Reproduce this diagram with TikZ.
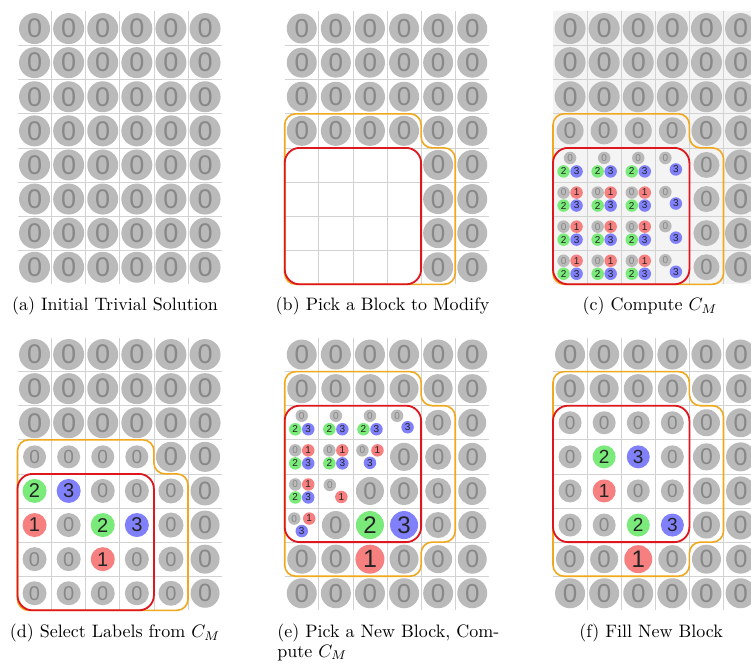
\documentclass[tikz,border=0pt]{standalone}
\usepackage{fontspec}
\newfontfamily\digitfont{Liberation Sans}
\definecolor{cgray}{RGB}{186,186,186}
\definecolor{cgtext}{RGB}{136,136,136}
\definecolor{cred}{RGB}{246,128,128}
\definecolor{cgreen}{RGB}{122,234,122}
\definecolor{cblue}{RGB}{128,128,250}
\definecolor{cdark}{RGB}{35,35,35}
\definecolor{cgrid}{RGB}{210,210,210}
\definecolor{corange}{RGB}{240,168,30}
\definecolor{cborder}{RGB}{222,22,30}
\definecolor{cbg}{RGB}{244,244,244}
\tikzset{
 dot/.style 2 args={circle, inner sep=0pt, minimum size=#1pt, font=\digitfont\fontsize{#2}{#2}\selectfont},
 g0/.style={fill=cgray, text=cgtext},
 g1/.style={fill=cred, text=cdark},
 g2/.style={fill=cgreen, text=cdark},
 g3/.style={fill=cblue, text=cdark},
 gridline/.style={draw=cgrid, line width=0.8pt},
 orangeline/.style={draw=corange, line width=1.6pt, rounded corners=11pt},
 redline/.style={draw=cborder, line width=1.8pt, rounded corners=15pt},
 caption/.style={font=\fontsize{10}{11.1}\selectfont, scale=1.8, inner sep=0pt},
 panel/.style={x=34.1pt, y=-34.1pt}
}
% big dot: col, row, diameter, font size, value
\newcommand\Dot[5]{\node[dot={#3}{#4}, g#5] (\pn#1#2) at (#1-0.5,#2-0.5) {#5};}
% small dot: col, row, dx, dy, value
\newcommand\Sm[5]{\node[dot={12.5}{10}, g#5, xshift=#3pt, yshift=#4pt] (\pn#1#2s#5) at (#1-0.5,#2-0.5) {#5};}
\newcommand\PA[2]{\Sm{#1}{#2}{0}{7}{0}\Sm{#1}{#2}{-6.5}{-6.5}{2}\Sm{#1}{#2}{6.5}{-6.5}{3}}
\newcommand\PB[2]{\Sm{#1}{#2}{-6.5}{6.5}{0}\Sm{#1}{#2}{6.5}{6.5}{1}\Sm{#1}{#2}{-6.5}{-6.5}{2}\Sm{#1}{#2}{6.5}{-6.5}{3}}
\newcommand\PD[2]{\Sm{#1}{#2}{-7}{7}{0}\Sm{#1}{#2}{3.5}{-4.5}{3}}
\newcommand\PE[2]{\Sm{#1}{#2}{-7.5}{6.5}{0}\Sm{#1}{#2}{7.5}{6.5}{1}\Sm{#1}{#2}{0}{-6}{3}}
\newcommand\PF[2]{\Sm{#1}{#2}{-6}{6}{0}\Sm{#1}{#2}{5.5}{-6}{1}}
\newcommand\Grid{%
 \foreach \i in {1,...,5}{\draw[gridline] (\i,0) -- (\i,8);}%
 \foreach \j in {1,...,7}{\draw[gridline] (0,\j) -- (6,\j);}}
\begin{document}
\begin{tikzpicture}[x=1pt,y=-1pt]
\useasboundingbox (0,0) rectangle (751,666);
\clip (0,0) rectangle (751,666);
\fill[white] (0,0) rectangle (751,666);

% (a)
\begin{scope}[shift={(17.5,11.5)},panel]
\def\pn{a}
\Grid
\foreach \c in {1,...,6}{\foreach \r in {1,...,8}{\Dot{\c}{\r}{31}{27}{0}}}
\end{scope}

% (b)
\begin{scope}[shift={(284.7,11.5)},panel]
\def\pn{b}
\Grid
\foreach \c in {1,...,6}{\foreach \r in {1,...,4}{\Dot{\c}{\r}{30}{26}{0}}}
\foreach \c in {5,6}{\foreach \r in {5,...,8}{\Dot{\c}{\r}{30}{26}{0}}}
\draw[orangeline] (0,3) -- (4,3) -- (4,4) -- (5,4) -- (5,8) -- (0,8) -- cycle;
\draw[redline] (0,4) rectangle (4,8);
\end{scope}

% (c)
\begin{scope}[shift={(553,11.5)},panel]
\def\pn{c}
\fill[cbg] (0,0) rectangle (6,8);
\Grid
\foreach \c in {1,...,6}{\foreach \r in {1,...,3}{\Dot{\c}{\r}{31}{27}{0}}}
\foreach \c in {1,...,4}{\Dot{\c}{4}{27}{23}{0}}
\Dot{5}{4}{30}{26}{0}
\Dot{6}{4}{31}{27}{0}
\foreach \r in {5,...,8}{\Dot{5}{\r}{26}{22}{0}\Dot{6}{\r}{31}{27}{0}}
\PA{1}{5}\PA{2}{5}\PA{3}{5}\PD{4}{5}
\foreach \r in {6,7,8}{\PB{1}{\r}\PB{2}{\r}\PB{3}{\r}\PD{4}{\r}}
\draw[orangeline] (0,3) -- (4,3) -- (4,4) -- (5,4) -- (5,8) -- (0,8) -- cycle;
\draw[redline] (0,4) rectangle (4,8);
\end{scope}

% (d)
\begin{scope}[shift={(17.5,337.5)},panel]
\def\pn{d}
\Grid
\foreach \c in {1,...,6}{\foreach \r in {1,...,3}{\Dot{\c}{\r}{31}{27}{0}}}
\foreach \c in {1,...,4}{\Dot{\c}{4}{23}{19}{0}}
\Dot{5}{4}{30}{26}{0}
\Dot{6}{4}{30}{26}{0}
\foreach \r in {5,...,8}{\Dot{5}{\r}{25}{20}{0}\Dot{6}{\r}{29}{25}{0}}
\Dot{1}{5}{24}{20}{2}\Dot{2}{5}{24}{20}{3}\Dot{3}{5}{24}{20}{0}\Dot{4}{5}{24}{20}{0}
\Dot{1}{6}{24}{20}{1}\Dot{2}{6}{24}{20}{0}\Dot{3}{6}{24}{20}{2}\Dot{4}{6}{24}{20}{3}
\Dot{1}{7}{24}{20}{0}\Dot{2}{7}{24}{20}{0}\Dot{3}{7}{24}{20}{1}\Dot{4}{7}{24}{20}{0}
\Dot{1}{8}{24}{20}{0}\Dot{2}{8}{24}{20}{0}\Dot{3}{8}{24}{20}{0}\Dot{4}{8}{24}{20}{0}
\draw[orangeline] (0,3) -- (4,3) -- (4,4) -- (5,4) -- (5,8) -- (0,8) -- cycle;
\draw[redline] (0,4) rectangle (4,8);
\end{scope}

% (e)
\begin{scope}[shift={(284.7,337.5)},panel]
\def\pn{e}
\Grid
\foreach \c in {1,...,6}{\Dot{\c}{1}{30}{26}{0}\Dot{\c}{8}{30}{26}{0}\Dot{\c}{2}{29}{25}{0}}
\foreach \r in {3,...,6}{\Dot{5}{\r}{26}{22}{0}\Dot{6}{\r}{28}{24}{0}}
\Dot{1}{7}{29}{25}{0}\Dot{2}{7}{29}{25}{0}\Dot{3}{7}{29}{25}{1}\Dot{4}{7}{29}{25}{0}
\Dot{5}{7}{28}{24}{0}\Dot{6}{7}{29}{25}{0}
\PA{1}{3}\PA{2}{3}\PA{3}{3}\PD{4}{3}
\PB{1}{4}\PB{2}{4}\PE{3}{4}\Dot{4}{4}{28}{24}{0}
\PB{1}{5}\PF{2}{5}\Dot{3}{5}{28}{24}{0}\Dot{4}{5}{28}{24}{0}
\PE{1}{6}\Dot{2}{6}{28}{24}{0}\Dot{3}{6}{28}{24}{2}\Dot{4}{6}{28}{24}{3}
\draw[orangeline] (0,1) -- (4,1) -- (4,2) -- (5,2) -- (5,6) -- (4,6) -- (4,7) -- (0,7) -- cycle;
\draw[redline] (0,2) rectangle (4,6);
\end{scope}

% (f)
\begin{scope}[shift={(553,337.5)},panel]
\def\pn{f}
\Grid
\foreach \c in {1,...,6}{\Dot{\c}{1}{30}{26}{0}\Dot{\c}{8}{30}{26}{0}\Dot{\c}{2}{29}{25}{0}}
\foreach \r in {3,...,6}{\Dot{5}{\r}{27}{23}{0}\Dot{6}{\r}{29}{25}{0}}
\Dot{1}{7}{28}{24}{0}\Dot{2}{7}{28}{24}{0}\Dot{3}{7}{28}{24}{1}\Dot{4}{7}{28}{24}{0}
\Dot{5}{7}{29}{25}{0}\Dot{6}{7}{29}{25}{0}
\Dot{1}{3}{23}{19}{0}\Dot{2}{3}{23}{19}{0}\Dot{3}{3}{23}{19}{0}\Dot{4}{3}{23}{19}{0}
\Dot{1}{4}{23}{19}{0}\Dot{2}{4}{23}{19}{2}\Dot{3}{4}{23}{19}{3}\Dot{4}{4}{23}{19}{0}
\Dot{1}{5}{23}{19}{0}\Dot{2}{5}{23}{19}{1}\Dot{3}{5}{23}{19}{0}\Dot{4}{5}{23}{19}{0}
\Dot{1}{6}{23}{19}{0}\Dot{2}{6}{23}{19}{0}\Dot{3}{6}{23}{19}{2}\Dot{4}{6}{23}{19}{3}
\draw[orangeline] (0,1) -- (4,1) -- (4,2) -- (5,2) -- (5,6) -- (4,6) -- (4,7) -- (0,7) -- cycle;
\draw[redline] (0,2) rectangle (4,6);
\end{scope}

% captions
\node[caption] (capa) at (115,306) {(a) Initial Trivial Solution};
\node[caption] (capb) at (382.5,306) {(b) Pick a Block to Modify};
\node[caption] (capc) at (650,306) {(c) Compute $C_M$};
\node[caption] (capd) at (115,633) {(d) Select Labels from $C_M$};
\node[caption, anchor=west, align=left] (cape) at (277,642) {(e) Pick a New Block, Com-\\pute $C_M$};
\node[caption] (capf) at (651,633) {(f) Fill New Block};
\end{tikzpicture}
\end{document}
